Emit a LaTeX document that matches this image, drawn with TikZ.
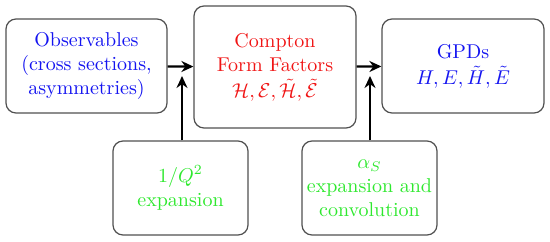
\documentclass[tikz,border=0pt]{standalone}
\usepackage{amsmath}
\usepackage{amssymb}
\usepackage{xcolor}
\usepackage{tikz}
\usetikzlibrary{arrows.meta, positioning}
\definecolor{ObsBlue}{HTML}{1414F0}
\definecolor{CffRed}{HTML}{F01414}
\definecolor{ExpGreen}{HTML}{2EE82E}
\definecolor{BoxGray}{HTML}{505050}

\tikzset{
    box/.style={draw=BoxGray, rounded corners=5pt, line width=0.6pt, align=center, inner sep=2pt},
    flow/.style={line width=1.1pt, -{Stealth[length=6pt, width=5.5pt]}}
}

\begin{document}
\begin{tikzpicture}[x=0.5pt, y=-0.5pt]
                \useasboundingbox (0,0) rectangle (550,241);
                \node[box, text=ObsBlue, minimum width=80.5pt, minimum height=47pt] (obs) at (86.5,66)
                    {Observables\\(cross sections,\\asymmetries)};
                \node[box, text=CffRed, minimum width=81pt, minimum height=61pt] (cff) at (275,67)
                    {Compton\\Form Factors\\[1pt]$\mathcal{H},\mathcal{E},\tilde{\mathcal{H}},\tilde{\mathcal{E}}$};
                \node[box, text=ObsBlue, minimum width=81pt, minimum height=47pt] (gpd) at (463,66)
                    {GPDs\\[1pt]$H,E,\tilde{H},\tilde{E}$};
                \node[box, text=ExpGreen, minimum width=67.5pt, minimum height=47pt] (twist) at (180.5,188)
                    {$1/Q^2$\\expansion};
                \node[box, text=ExpGreen, minimum width=67.5pt, minimum height=47pt] (pert) at (369.5,188)
                    {$\alpha_S$\\expansion and\\convolution};
                % feed points just under the horizontal arrows
                \coordinate (tipL) at (182,76);
                \coordinate (tipR) at (370,76);
                \draw[flow] (obs) -- (cff);
                \draw[flow] (cff) -- (gpd);
                \draw[flow] (twist.north -| tipL) -- (tipL);
                \draw[flow] (pert.north -| tipR) -- (tipR);
            \end{tikzpicture}
\end{document}
